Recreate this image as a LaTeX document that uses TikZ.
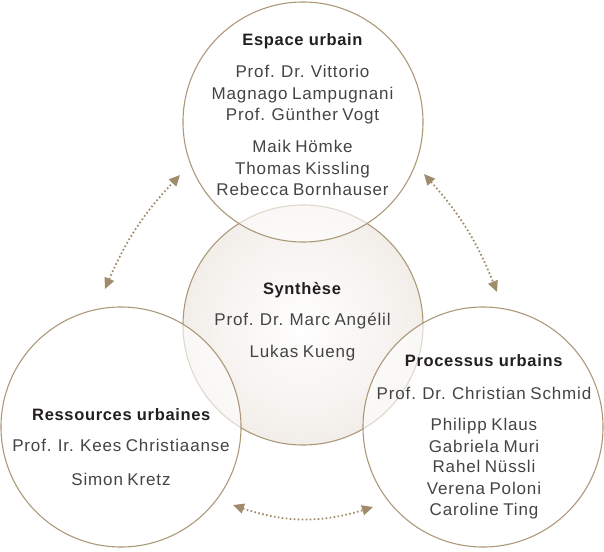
\documentclass[tikz,border=0pt]{standalone}
\usepackage{fontspec}
\setmainfont{Liberation Sans}[LetterSpace=5,WordSpace=0.8]
\newfontfamily\titlefont{Liberation Sans}[LetterSpace=4]
\usetikzlibrary{arrows.meta}
\definecolor{tanline}{RGB}{172,153,122}
\definecolor{tanarrow}{RGB}{160,140,106}
\definecolor{beigemid}{RGB}{244,240,236}
\definecolor{beige}{RGB}{226,216,205}
\definecolor{titlecol}{RGB}{35,31,32}
\definecolor{namecol}{RGB}{68,68,68}
\pgfdeclareradialshading{synshade}{\pgfpoint{0bp}{0bp}}{color(0bp)=(white); color(22bp)=(beigemid); color(50bp)=(beige); color(60bp)=(beige)}
\tikzset{
  bigcirc/.style={circle, minimum size=240pt, inner sep=0pt},
  outline/.style={draw=tanline, line width=1.1pt},
  headtext/.style={anchor=base, inner sep=0pt, text=titlecol, font=\titlefont\fontsize{16.5}{18}\selectfont\bfseries},
  persontext/.style={anchor=base, inner sep=0pt, text=namecol, font=\fontsize{17}{18}\selectfont},
  link/.style={draw=tanarrow, line width=1.8pt, dash pattern=on 1.6pt off 2.4pt,
    {Triangle[length=11pt,width=10pt]}-{Triangle[length=11pt,width=10pt]}},
}
\begin{document}
\begin{tikzpicture}[x=1pt,y=-1pt]
\useasboundingbox (0,0) rectangle (604,551);
% central circle with gradient
\node[bigcirc, shading=synshade, outline] (syn) at (303,325) {};
% outer circles, translucent white
\node[bigcirc, fill=white, fill opacity=0.62] (esp) at (303,122) {};
\node[bigcirc, fill=white, fill opacity=0.62] (res) at (121,427) {};
\node[bigcirc, fill=white, fill opacity=0.62] (pro) at (483,427) {};
\node[bigcirc, outline] (espo) at (esp.center) {};
\node[bigcirc, outline] (reso) at (res.center) {};
\node[bigcirc, outline] (proo) at (pro.center) {};

% texts top
\node[headtext] (e0) at (302.5,45.7) {Espace urbain};
\node[persontext] (e1) at (302.5,77.3) {Prof. Dr. Vittorio};
\node[persontext] (e2) at (302.5,99.2) {Magnago Lampugnani};
\node[persontext] (e3) at (302.5,120.7) {Prof. Günther Vogt};
\node[persontext] (e4) at (302.5,152.3) {Maik Hömke};
\node[persontext] (e5) at (302.5,174) {Thomas Kissling};
\node[persontext] (e6) at (302.5,195.3) {Rebecca Bornhauser};
% center
\node[headtext] (s0) at (302,294) {Synthèse};
\node[persontext] (s1) at (302.5,325.7) {Prof. Dr. Marc Angélil};
\node[persontext] (s2) at (302.5,357.7) {Lukas Kueng};
% bottom left
\node[headtext] (r0) at (121.3,420) {Ressources urbaines};
\node[persontext] (r1) at (121,451.7) {Prof. Ir. Kees Christiaanse};
\node[persontext] (r2) at (121,485) {Simon Kretz};
% bottom right
\node[headtext] (p0) at (483.7,366.7) {Processus urbains};
\node[persontext] (p1) at (484,399.3) {Prof. Dr. Christian Schmid};
\node[persontext] (p2) at (484,430.7) {Philipp Klaus};
\node[persontext] (p3) at (484,452) {Gabriela Muri};
\node[persontext] (p4) at (484,472.9) {Rahel Nüssli};
\node[persontext] (p5) at (484,494.2) {Verena Poloni};
\node[persontext] (p6) at (484,515.7) {Caroline Ting};

% connectors
\coordinate (la) at (105,289);
\coordinate (lb) at (180,175);
\coordinate (ra) at (424,174);
\coordinate (rb) at (497,292);
\coordinate (ba) at (233,505);
\coordinate (bb) at (373,507);
\draw[link] (la) to[bend left=10] (lb);
\draw[link] (ra) to[bend left=10] (rb);
\draw[link] (ba) to[bend right=18] (bb);
\end{tikzpicture}
\end{document}
